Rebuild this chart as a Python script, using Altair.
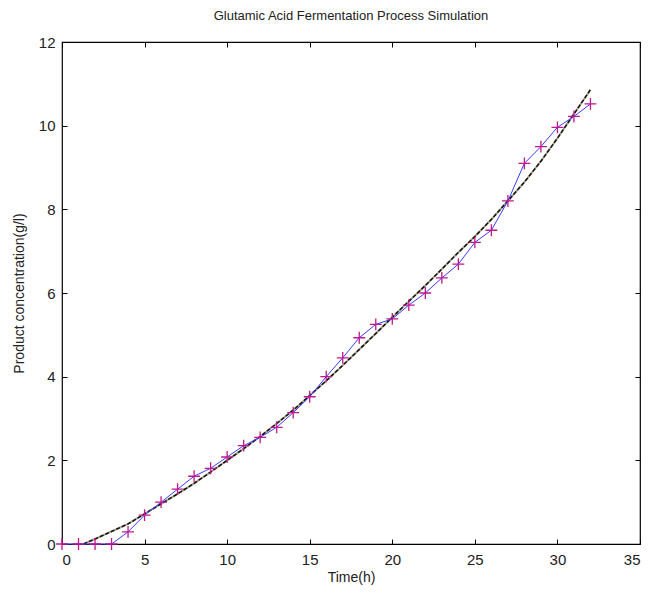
import altair as alt
import pandas as pd

# ---- data ----
time_h = list(range(33))
measured = [0, 0, 0, 0, 0.29, 0.69, 1.0, 1.31, 1.62, 1.81, 2.08, 2.35, 2.55,
            2.79, 3.14, 3.52, 4.0, 4.45, 4.93, 5.25, 5.38, 5.71, 6.0, 6.36,
            6.69, 7.21, 7.5, 8.2, 9.1, 9.5, 9.96, 10.22, 10.52]
model_t = [1.3, 2, 3, 4, 5, 6, 7, 8, 9, 10, 11, 12, 13, 14, 15, 16, 17, 18,
           19, 20, 21, 22, 23, 24, 25, 26, 27, 28, 29, 30, 31, 32]
model_y = [0, 0.12, 0.3, 0.48, 0.72, 0.96, 1.2, 1.45, 1.72, 2.0, 2.28, 2.57,
           2.88, 3.2, 3.55, 3.9, 4.27, 4.65, 5.03, 5.42, 5.8, 6.18, 6.57,
           6.97, 7.35, 7.76, 8.2, 8.65, 9.15, 9.7, 10.28, 10.86]
x_ticks = [0, 5, 10, 15, 20, 25, 30, 35]
y_ticks = [0, 2, 4, 6, 8, 10, 12]

W, H = 578, 502

meas = pd.DataFrame({"t": time_h, "c": measured})
mod = pd.DataFrame({"t": model_t, "c": model_y})

xs = alt.Scale(domain=[0, 35], nice=False, zero=False)
ys = alt.Scale(domain=[0, 12], nice=False, zero=False)

# Layer 1: model underlay (gray) with labelled axes
l1 = alt.Chart(mod).mark_line(color="#a8a28a", strokeWidth=2).encode(
    x=alt.X("t:Q", scale=xs, axis=alt.Axis(
        orient="bottom", values=x_ticks, ticks=False, domain=False,
        labelFontSize=15, labelPadding=8, labelColor="#222",
        title="Time(h)", titleFontSize=14, titleFontWeight="normal",
        titleColor="#222", titlePadding=3, grid=False)),
    y=alt.Y("c:Q", scale=ys, axis=alt.Axis(
        orient="left", values=y_ticks, ticks=False, domain=False,
        labelFontSize=15, labelPadding=7, labelColor="#222",
        title="Product concentration(g/l)", titleFontSize=14,
        titleFontWeight="normal", titleColor="#222", titlePadding=12,
        grid=False)),
)

# Layer 2: model dashed black, inward ticks on bottom and left edges
l2 = alt.Chart(mod).mark_line(color="#111111", strokeWidth=1.5,
                              strokeDash=[4, 2]).encode(
    x=alt.X("t:Q", scale=xs, axis=alt.Axis(
        orient="top", offset=-H, values=x_ticks, labels=False, domain=False,
        tickSize=5, tickColor="black", title=None, grid=False)),
    y=alt.Y("c:Q", scale=ys, axis=alt.Axis(
        orient="right", offset=-W, values=y_ticks, labels=False,
        domain=False, tickSize=5, tickColor="black", title=None,
        grid=False)),
)

# Layer 3: measured blue line, inward ticks on top and right edges
l3 = alt.Chart(meas).mark_line(color="#3a3aff", strokeWidth=1).encode(
    x=alt.X("t:Q", scale=xs, axis=alt.Axis(
        orient="bottom", offset=-H, values=x_ticks, labels=False,
        domain=False, tickSize=5, tickColor="black", title=None,
        grid=False)),
    y=alt.Y("c:Q", scale=ys, axis=alt.Axis(
        orient="left", offset=-W, values=y_ticks, labels=False,
        domain=False, tickSize=5, tickColor="black", title=None,
        grid=False)),
)

# Layer 4: plus markers
l4 = alt.Chart(meas).mark_point(
    shape="M-1,0L1,0M0,-1L0,1", size=140, filled=False,
    color="#c0168f", strokeWidth=1.3, opacity=1).encode(
    x=alt.X("t:Q", scale=xs, axis=None),
    y=alt.Y("c:Q", scale=ys, axis=None),
)

chart = alt.layer(l1, l2, l3, l4).resolve_scale(
    x="shared", y="shared").resolve_axis(
    x="independent", y="independent").properties(
    width=W, height=H,
    title=alt.Title("Glutamic Acid Fermentation Process Simulation",
                    fontSize=13, fontWeight="normal", color="#222",
                    offset=12),
    autosize=alt.AutoSizeParams(type="none"),
    padding={"left": 54, "top": 34, "right": 2, "bottom": 42},
).configure(font="Liberation Sans").configure_view(
    stroke="black", strokeWidth=1.2)

chart.save("out.html", embed_options={"renderer": "svg", "actions": False})
